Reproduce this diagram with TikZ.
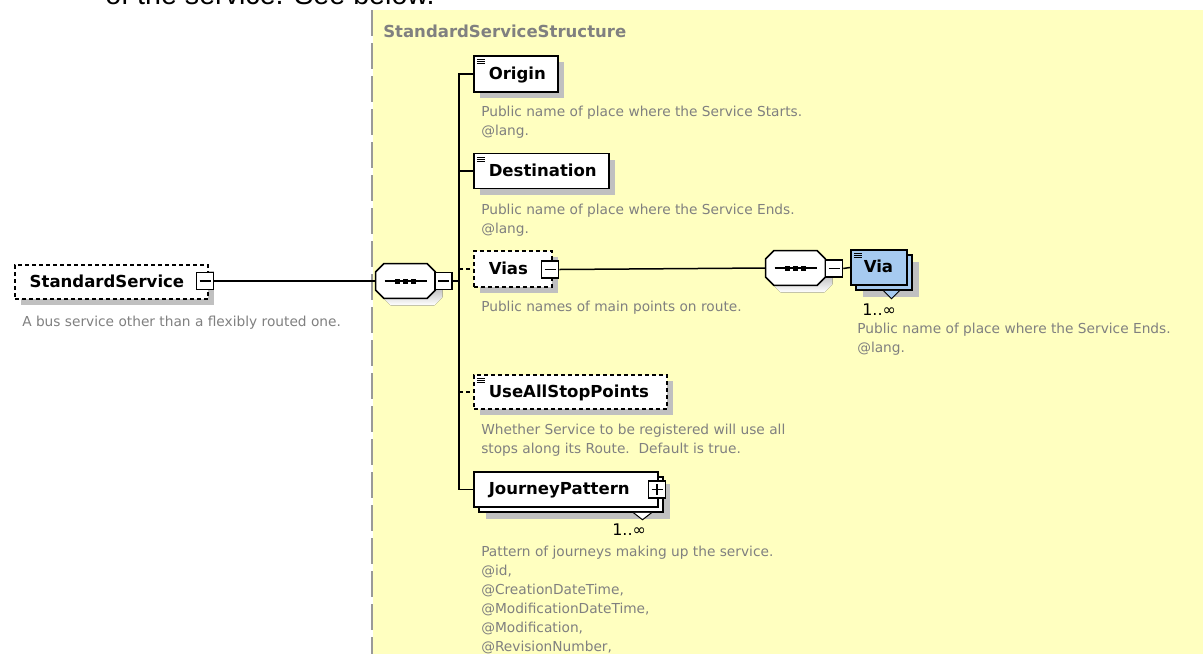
\documentclass[tikz,border=0pt]{standalone}
\usepackage{fontspec}
\setmainfont{DejaVu Sans}
\newfontfamily\introfont{Liberation Sans}
\usetikzlibrary{shadows,calc}

\newdimen\pxu \pxu=0.75pt

\definecolor{paper}{HTML}{FFFFC0}
\definecolor{rulegray}{HTML}{999999}
\definecolor{notegray}{HTML}{808080}
\definecolor{shade}{HTML}{C0C0C0}
\definecolor{viablue}{HTML}{A6CAF0}

\newcommand\labelfont{\bfseries\fontsize{12.4}{14}\selectfont}
\newcommand\notefont{\fontsize{10.3}{14.25}\selectfont}
\newcommand\cardfont{\fontsize{12}{14}\selectfont}
% invisible prop fixing the height of the first text line
\newcommand\firstprop{\rule{0pt}{13\pxu}}

% octagonal sequence compositor drawn around a named placeholder node
\newcommand\seqdraw[1]{%
  \fill[shade, transform canvas={shift={(5.25pt,-5.25pt)}}]
    ($(#1.north west)+(8,0)$) -- ($(#1.north east)+(-8,0)$) -- ($(#1.north east)+(0,8)$) --
    ($(#1.south east)+(0,-8)$) -- ($(#1.south east)+(-8,0)$) -- ($(#1.south west)+(8,0)$) --
    ($(#1.south west)+(0,-8)$) -- ($(#1.north west)+(0,8)$) -- cycle;
  \draw[fill=white, line width=1.5\pxu]
    ($(#1.north west)+(8,0)$) -- ($(#1.north east)+(-8,0)$) -- ($(#1.north east)+(0,8)$) --
    ($(#1.south east)+(0,-8)$) -- ($(#1.south east)+(-8,0)$) -- ($(#1.south west)+(8,0)$) --
    ($(#1.south west)+(0,-8)$) -- ($(#1.north west)+(0,8)$) -- cycle;
  \draw[line width=1.5\pxu] ($(#1.center)+(-21,0)$) -- ($(#1.center)+(21,0)$);
  \foreach \dd in {-8,0,8}
    \fill ($(#1.center)+(\dd,0)+(-2.5,-2.5)$) rectangle ++(5,5);%
}

\tikzset{
  conn/.style={line width=1.5\pxu},
  optconn/.style={conn, dash pattern=on 4\pxu off 3\pxu},
  shad/.style={drop shadow={shadow xshift=#1, shadow yshift=-#1, fill=shade, opacity=1}},
  shad/.default=6\pxu,
  elem/.style={draw, fill=white, line width=1.5\pxu, anchor=west, align=left,
    inner xsep=15\pxu, inner ysep=0pt, text height=10.5\pxu, text depth=0pt,
    font=\labelfont, shad},
  optelem/.style={elem, dash pattern=on 4\pxu off 3\pxu},
  multi/.style={draw, fill=#1, line width=1.5\pxu, anchor=west, align=left,
    inner xsep=15\pxu, inner ysep=0pt, text height=10.5\pxu, text depth=0pt,
    font=\labelfont,
    drop shadow={shadow xshift=12\pxu, shadow yshift=-12\pxu, fill=shade, opacity=1},
    copy shadow={shadow xshift=5\pxu, shadow yshift=-5\pxu, fill=#1, draw=black, line width=1.5\pxu}},
  docmark/.style={path picture={
    \foreach \yy in {3.5,5.5,7.5}
      \draw[solid, line width=1\pxu] ([xshift=3\pxu, yshift=-\yy\pxu]path picture bounding box.north west) -- ++(8\pxu,0);}},
  tog/.style={draw, fill=white, line width=1.5\pxu, minimum size=17\pxu, inner sep=0pt},
  minusbox/.style={tog, path picture={
    \draw[line width=1.5\pxu] ([xshift=3\pxu]path picture bounding box.west) -- ([xshift=-3\pxu]path picture bounding box.east);}},
  plusbox/.style={tog, path picture={
    \draw[line width=1.5\pxu] ([xshift=3\pxu]path picture bounding box.west) -- ([xshift=-3\pxu]path picture bounding box.east);
    \draw[line width=1.5\pxu] ([yshift=-3\pxu]path picture bounding box.north) -- ([yshift=3\pxu]path picture bounding box.south);}},
  seqbox/.style={minimum width=59\pxu, minimum height=34\pxu, inner sep=0pt},
  desc/.style={anchor=north west, yshift=13\pxu, inner sep=0pt, align=left, text=notegray,
    font=\notefont},
  card/.style={anchor=base west, inner sep=0pt, font=\cardfont},
  ptr/.style={draw, line width=1\pxu, fill=#1},
  title/.style={anchor=base west, inner sep=0pt, text=notegray, font=\labelfont},
}

\begin{document}
\begin{tikzpicture}[x=0.75pt, y=-0.75pt]
\useasboundingbox (0,0) rectangle (1203,654);
\fill[white] (0,0) rectangle (1203,654);

% running text above the figure
\node[anchor=base west, inner sep=0pt, font=\introfont\fontsize{21.5}{24}\selectfont] (intro) at (105,4.5) {of the service. See below.};

% complex type area
\fill[paper] (373,10) rectangle (1203,654);
\draw[rulegray, line width=1.5\pxu, dash pattern=on 26\pxu off 7\pxu] (372,10) -- (372,654);
\node[title] (ttl) at (383,37) {StandardServiceStructure};

% root element
\node[optelem, text width=163\pxu, minimum height=34\pxu] (ss) at (14,282) {StandardService};
\node[minusbox] (ssm) at (205,281) {};
\node[desc] (ssd) at (22,326) {\firstprop A bus service other than a flexibly routed one.};

% sequence compositor
\node[seqbox] (seq1) at (405.5,281) {};
\seqdraw{seq1}
\node[minusbox] (seq1m) at (443.5,281) {};
\coordinate (trunk) at (459,281);

% children
\node[elem, docmark, text width=54\pxu, minimum height=36\pxu] (origin) at (473,74) {Origin};
\node[desc] (origind) at (481,116) {\firstprop Public name of place where the Service Starts.\\@lang.};

\node[elem, docmark, text width=105\pxu, minimum height=35\pxu] (dest) at (473,171) {Destination};
\node[desc] (destd) at (481,214) {\firstprop Public name of place where the Service Ends.\\@lang.};

\node[optelem, text width=48\pxu, minimum height=36\pxu] (vias) at (473,269) {Vias};
\node[minusbox] (viasm) at (550,269.5) {};
\node[desc] (viasd) at (481,311) {\firstprop Public names of main points on route.};

\node[optelem, docmark, text width=163\pxu, minimum height=34\pxu] (uas) at (473,392) {UseAllStopPoints};
\node[desc] (uasd) at (481,434) {\firstprop Whether Service to be registered will use all\\stops along its Route.\ \ Default is true.};

\node[multi=white, text width=154\pxu, minimum height=35\pxu] (jp) at (473,489.5) {JourneyPattern};
\draw[ptr=white] ($(jp.south east)+(-25,5)$) coordinate (jpa) -- ++(9,7) -- ++(9,-7);
\node[plusbox] (jpp) at (657,489.5) {};
\node[card] (jpc) at (612,535) {1..∞};
\node[desc] (jpd) at (481,556) {\firstprop Pattern of journeys making up the service.\\@id,\\@CreationDateTime,\\@ModificationDateTime,\\@Modification,\\@RevisionNumber,};

% nested sequence inside Vias
\node[seqbox] (seq2) at (795.5,268) {};
\seqdraw{seq2}
\node[minusbox] (seq2m) at (834,268.5) {};

\node[multi=viablue, docmark, inner xsep=13\pxu, text width=30\pxu, minimum height=35\pxu] (via) at (850,267.5) {Via};
\draw[ptr=viablue] ($(via.south east)+(-24,5)$) coordinate (viaa) -- ++(8,8) -- ++(8,-8);
\node[card] (viac) at (862,315) {1..∞};
\node[desc] (viad) at (857,333) {\firstprop Public name of place where the Service Ends.\\@lang.};

% connectors
\draw[conn] (ssm.east) -- (seq1.west);
\draw[conn] (seq1m.east) -- (trunk);
\draw[conn] (origin.west) -- (origin.west -| trunk) -- (jp.west -| trunk) -- (jp.west);
\draw[conn] (dest.west -| trunk) -- (dest.west);
\draw[optconn] (vias.west -| trunk) -- (vias.west);
\draw[optconn] (uas.west -| trunk) -- (uas.west);
\draw[conn] (viasm.east) -- (seq2.west);
\draw[conn] (seq2m.east) -- (via.west);
\end{tikzpicture}
\end{document}
